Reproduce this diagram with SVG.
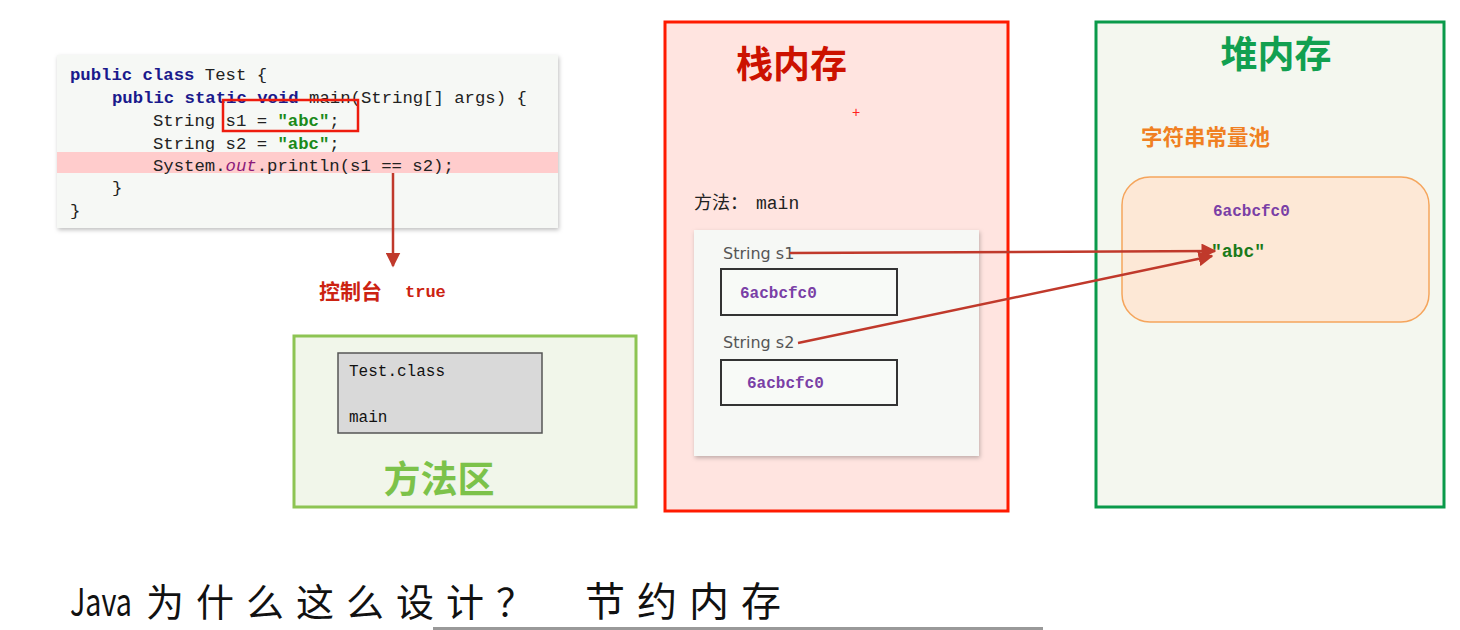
<svg xmlns="http://www.w3.org/2000/svg" width="1460" height="630" viewBox="0 0 1460 630">
<defs>
<style>
.mono{font-family:"Liberation Mono","DejaVu Sans Mono",monospace;}
.cjk{font-family:"Noto Sans CJK SC","Noto Sans",sans-serif;}
.code{font-size:17.3px;fill:#222;}
.kw{fill:#1a1a8c;font-weight:bold;}
.str{fill:#1a8a1a;font-weight:bold;}
.addr{font-family:"Liberation Mono","DejaVu Sans Mono",monospace;font-weight:bold;font-size:16px;fill:#7a3fa6;}
.lbl{font-family:"DejaVu Sans","Noto Sans",sans-serif;font-size:16px;fill:#555;}
.conn{stroke:#c0392b;stroke-width:2.5;fill:none;}
.cap{font-family:"Noto Sans CJK SC","Noto Sans",sans-serif;fill:#111;}
</style>
<marker id="ah" viewBox="0 0 10 10" refX="9" refY="5" markerWidth="6" markerHeight="6" orient="auto" markerUnits="strokeWidth">
<path d="M0,0 L10,5 L0,10 z" fill="#c0392b"/>
</marker>
<filter id="sh" x="-5%" y="-5%" width="110%" height="115%">
<feDropShadow dx="1" dy="2" stdDeviation="2" flood-color="#000" flood-opacity="0.25"/>
</filter>
</defs>
<rect width="1460" height="630" fill="#ffffff"/>

<g id="code">
<rect x="57" y="55" width="501" height="173" fill="#f6f8f5" filter="url(#sh)"/>
<rect x="57" y="152" width="501" height="21" fill="#ffcccc"/>
<text class="mono code" x="70" y="80"><tspan class="kw">public class</tspan> Test {</text>
<text class="mono code" x="112" y="103"><tspan class="kw">public static void</tspan> main(String[] args) {</text>
<text class="mono code" x="153" y="126">String s1 = <tspan class="str">"abc"</tspan>;</text>
<text class="mono code" x="153" y="149">String s2 = <tspan class="str">"abc"</tspan>;</text>
<text class="mono code" x="153" y="171">System.<tspan fill="#8b1a7a" font-style="italic">out</tspan>.println(s1 == s2);</text>
<text class="mono code" x="112" y="193">}</text>
<text class="mono code" x="70" y="216">}</text>
<rect x="223" y="100" width="135" height="31" fill="none" stroke="#ee1c0e" stroke-width="2.5"/>
</g>

<g id="console">
<text class="cjk" x="319" y="299" font-size="21" font-weight="bold" fill="#cc2211">控制台</text>
<text class="mono" x="405" y="297" font-size="17" font-weight="bold" fill="#cc2211">true</text>
</g>

<g id="method-area">
<rect x="294" y="336" width="342" height="171" fill="#f1f6ea" stroke="#8dc453" stroke-width="3"/>
<rect x="338" y="353" width="204" height="80" fill="#d9d9d9" stroke="#555" stroke-width="1.5"/>
<text class="mono" x="349" y="376" font-size="16" fill="#111">Test.class</text>
<text class="mono" x="349" y="422" font-size="16" fill="#111">main</text>
<text class="cjk" x="439" y="493" font-size="37" font-weight="bold" fill="#7cc24a" text-anchor="middle">方法区</text>
</g>

<g id="stack">
<rect x="665" y="22" width="343" height="489" fill="#ffe4e0" stroke="#ff1a00" stroke-width="3"/>
<text class="cjk" x="736" y="78" font-size="37" font-weight="bold" fill="#cc1100">栈内存</text>
<text x="856" y="117" font-family="Liberation Sans,sans-serif" font-size="14" fill="#ff2020" text-anchor="middle">+</text>
<text class="cjk" x="694" y="209" font-size="18" fill="#222">方法：</text>
<text class="mono" x="756" y="209" font-size="18" fill="#222">main</text>
<rect x="694" y="230" width="285" height="226" fill="#f6f8f5" filter="url(#sh)"/>
<text class="lbl" x="723" y="259">String  s1</text>
<rect x="721" y="269" width="176" height="46" fill="#f8faf7" stroke="#333" stroke-width="2"/>
<text class="addr" x="740" y="298">6acbcfc0</text>
<text class="lbl" x="723" y="348">String  s2</text>
<rect x="721" y="360" width="176" height="45" fill="#f8faf7" stroke="#333" stroke-width="2"/>
<text class="addr" x="747" y="388">6acbcfc0</text>
</g>

<g id="heap">
<rect x="1096" y="22" width="348" height="485" fill="#f4f7ef" stroke="#0a9a4a" stroke-width="3"/>
<text class="cjk" x="1276" y="68" font-size="37" font-weight="bold" fill="#12a050" text-anchor="middle">堆内存</text>
<text class="cjk" x="1141" y="145" font-size="21.5" font-weight="bold" fill="#f08022">字符串常量池</text>
<rect x="1122" y="177" width="307" height="145" rx="28" fill="#fde8d6" stroke="#f5a55c" stroke-width="1.5"/>
<text class="addr" x="1213" y="216" font-size="15">6acbcfc0</text>
<text class="mono" x="1211" y="257" font-size="18" font-weight="bold" fill="#1a7a1a">"abc"</text>
</g>

<g id="connectors">
<line class="conn" x1="393" y1="173" x2="393" y2="266" marker-end="url(#ah)"/>
<line class="conn" x1="790" y1="253" x2="1215" y2="251" marker-end="url(#ah)"/>
<line class="conn" x1="798" y1="343" x2="1212" y2="256" marker-end="url(#ah)"/>
</g>

<g id="caption">
<text class="cap" x="70" y="616" font-size="38" textLength="62" lengthAdjust="spacingAndGlyphs">Java</text>
<text class="cap" x="146" y="616" font-size="38" letter-spacing="12">为什么这么设计？</text>
<text class="cap" x="585" y="616" font-size="40" letter-spacing="12">节约内存</text>
</g>
<rect x="433" y="627" width="610" height="3" fill="#999"/>
</svg>
